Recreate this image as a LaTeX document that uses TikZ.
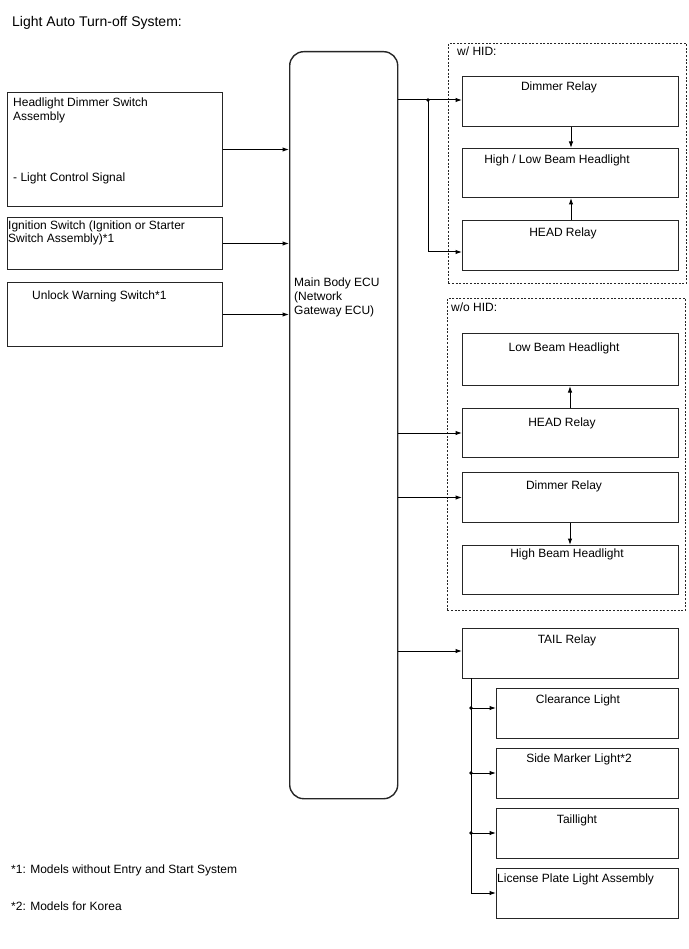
\documentclass[tikz,border=0pt]{standalone}
\usepackage{fontspec}
\setmainfont{Liberation Sans}
\usetikzlibrary{arrows.meta,calc}
\begin{document}
\begin{tikzpicture}[x=1pt,y=-1pt,
  font=\fontsize{12}{14}\selectfont,
  box/.style={draw=black!85,line width=1pt,inner sep=0pt,anchor=north west},
  grp/.style={draw=black!85,line width=0.9pt,dash pattern=on 2pt off 1.6pt,inner sep=0pt,anchor=north west},
  txt/.style={inner sep=0pt,anchor=base},
  ltxt/.style={inner sep=0pt,anchor=base west,align=left},
  conn/.style={line width=1pt,draw=black},
  arr/.style={conn,-{Latex[length=6.5pt,width=4.5pt]}},
  dotn/.style={circle,fill=black,inner sep=0pt,minimum size=3.6pt}]
\useasboundingbox (0,0) rectangle (688,949);

% title
\node[ltxt,font=\fontsize{14}{16}\selectfont] (title) at (12,27) {Light Auto Turn-off System:};

% inputs
\node[box,minimum width=215pt,minimum height=114pt] (hds) at (7,92) {};
\node[ltxt] (hdst1) at (13,107) {Headlight Dimmer Switch};
\node[ltxt] (hdst2) at (13,121) {Assembly};
\node[ltxt] (hdst3) at (13,182) {- Light Control Signal};

\node[box,minimum width=215pt,minimum height=52pt] (ign) at (7,217) {};
\node[ltxt] (ignt1) at (8,230) {Ignition Switch (Ignition or Starter};
\node[ltxt] (ignt2) at (8,243) {Switch Assembly)*1};

\node[box,minimum width=215pt,minimum height=64pt] (unl) at (7,282) {};
\node[ltxt] (unlt) at (32,299) {Unlock Warning Switch*1};

% ECU
\node[box,line width=1.4pt,rounded corners=14pt,minimum width=108pt,minimum height=747pt] (ecu) at (289,51) {};
\node[ltxt] (ecut1) at (294,287) {Main Body ECU};
\node[ltxt] (ecut2) at (294,300) {(Network};
\node[ltxt] (ecut3) at (294,314) {Gateway ECU)};

% w/ HID group
\node[grp,minimum width=238pt,minimum height=240pt] (g1) at (448,43) {};
\node[ltxt] (g1t) at (457,56) {w/ HID:};
\node[box,minimum width=216pt,minimum height=50pt] (dim1) at (462,76) {};
\node[txt] (dim1t) at (559,91) {Dimmer Relay};
\node[box,minimum width=216pt,minimum height=49pt] (hl1) at (462,148) {};
\node[txt] (hl1t) at (557,164) {High / Low Beam Headlight};
\node[box,minimum width=216pt,minimum height=50pt] (head1) at (462,220) {};
\node[txt] (head1t) at (563,237) {HEAD Relay};

% w/o HID group
\node[grp,minimum width=238pt,minimum height=312pt] (g2) at (447,298) {};
\node[ltxt] (g2t) at (451,311) {w/o HID:};
\node[box,minimum width=216pt,minimum height=52pt] (low2) at (462,333) {};
\node[txt] (low2t) at (564,351) {Low Beam Headlight};
\node[box,minimum width=216pt,minimum height=49pt] (head2) at (462,408) {};
\node[txt] (head2t) at (562,426) {HEAD Relay};
\node[box,minimum width=216pt,minimum height=50pt] (dim2) at (462,472) {};
\node[txt] (dim2t) at (564,489) {Dimmer Relay};
\node[box,minimum width=216pt,minimum height=49pt] (hb2) at (462,545) {};
\node[txt] (hb2t) at (567,557) {High Beam Headlight};

% tail
\node[box,minimum width=216pt,minimum height=50pt] (tail) at (462,628) {};
\node[txt] (tailt) at (567,643) {TAIL Relay};
\node[box,minimum width=182pt,minimum height=50pt] (clr) at (496,688) {};
\node[txt] (clrt) at (578,703) {Clearance Light};
\node[box,minimum width=182pt,minimum height=50pt] (side) at (496,748) {};
\node[txt] (sidet) at (579,762) {Side Marker Light*2};
\node[box,minimum width=182pt,minimum height=50pt] (tl) at (496,808) {};
\node[txt] (tlt) at (577,823) {Taillight};
\node[box,minimum width=182pt,minimum height=50pt] (lic) at (496,868) {};
\node[ltxt] (lict) at (497,882) {License Plate Light Assembly};

% footnotes
\node[ltxt] (fn1) at (11,873) {*1: Models without Entry and Start System};
\node[ltxt] (fn2) at (11,910) {*2: Models for Korea};

% input arrows
\draw[arr] (hds.east) -- (hds.east -| ecu.west);
\draw[arr] (ign.east) -- (ign.east -| ecu.west);
\draw[arr] (unl.east) -- (unl.east -| ecu.west);

% w/ HID connectors
\coordinate (ax) at (571,0);
\coordinate (j1) at (428,100);
\coordinate (j1b) at (428,252);
\draw[arr] (ecu.east |- j1) -- (dim1.west |- j1);
\draw[conn] (j1) -- (j1b);
\draw[arr] (j1b) -- (dim1.west |- j1b);
\node[dotn] (d1) at (j1) {};
\draw[arr] (dim1.south -| ax) -- (hl1.north -| ax);
\draw[arr] (head1.north -| ax) -- (hl1.south -| ax);

% w/o HID connectors
\coordinate (bx) at (570,0);
\draw[arr] (ecu.east |- head2) -- (head2.west);
\draw[arr] (ecu.east |- dim2) -- (dim2.west);
\draw[arr] (head2.north -| bx) -- (low2.south -| bx);
\draw[arr] (dim2.south -| bx) -- (hb2.north -| bx);

% tail connectors
\draw[arr] (ecu.east |- 0,651) -- (tail.west |- 0,651);
\coordinate (t0) at (471,678);
\coordinate (t1) at (471,708);
\coordinate (t2) at (471,773);
\coordinate (t3) at (471,833);
\coordinate (t4) at (471,893);
\draw[conn] (t0) -- (t4);
\draw[arr] (t1) -- (clr.west |- t1);
\draw[arr] (t2) -- (side.west |- t2);
\draw[arr] (t3) -- (tl.west |- t3);
\draw[arr] (t4) -- (lic.west |- t4);
\node[dotn] (dt1) at (t1) {};
\node[dotn] (dt2) at (t2) {};
\node[dotn] (dt3) at (t3) {};
\end{tikzpicture}
\end{document}
